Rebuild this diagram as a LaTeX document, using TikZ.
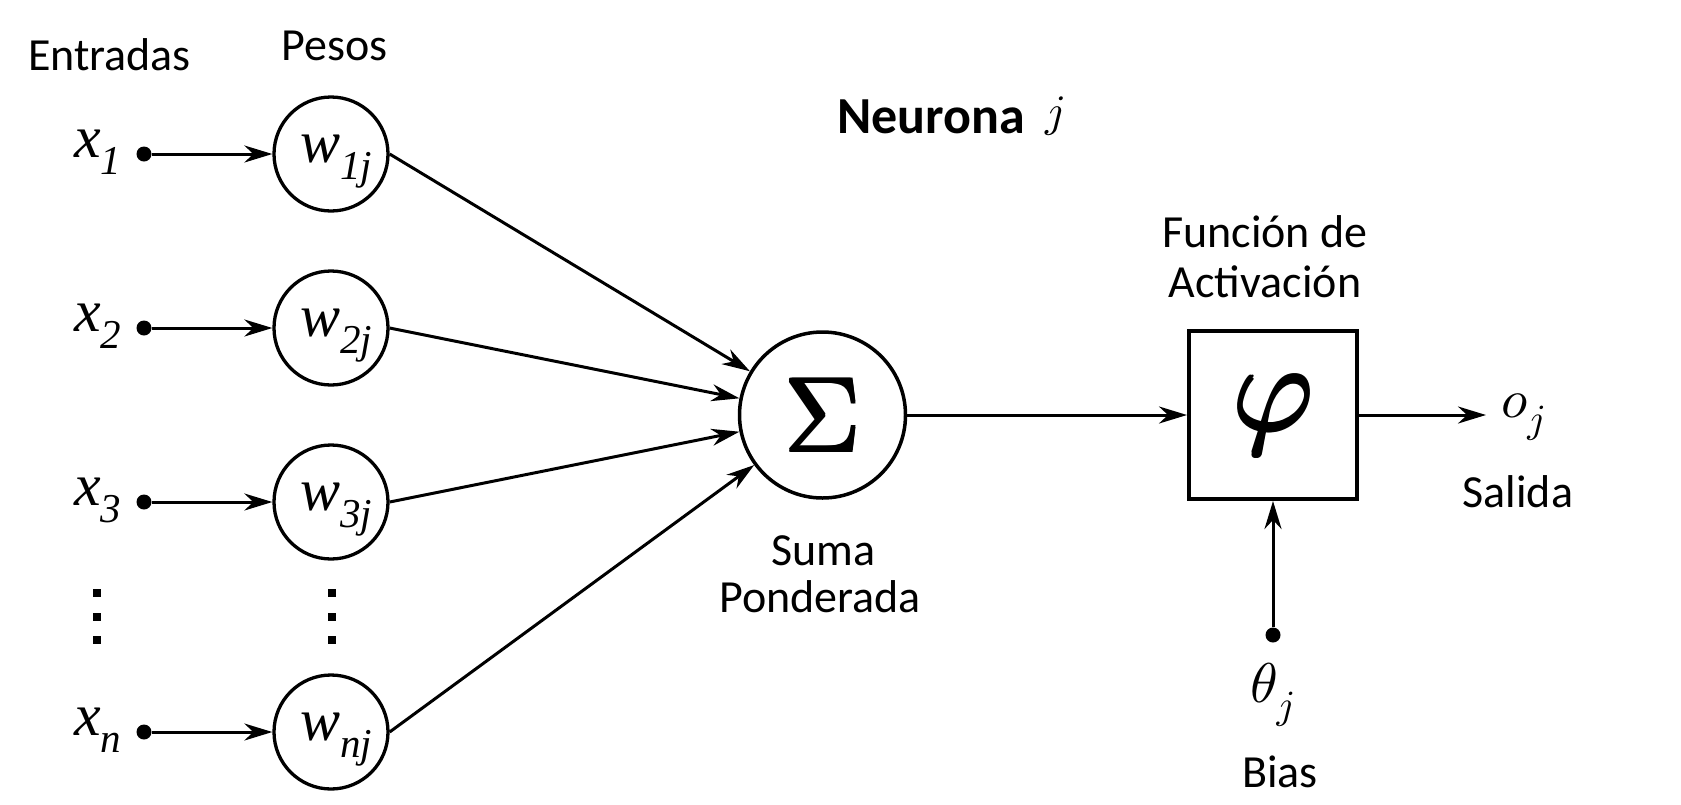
\documentclass[tikz,border=0pt]{standalone}
\usepackage{fix-cm}
\usepackage[no-math]{fontspec}
\setmainfont{Carlito}
\newfontfamily\lsf{Liberation Serif}
\usetikzlibrary{arrows.meta}
\font\sigfont=cmr10 at 106pt
\font\phifont=cmmi10 at 124pt
\font\thfont=cmmi10 at 56pt
\font\ofont=cmmi10 at 54pt
\font\subfont=cmmi10 at 40pt
\font\jfont=cmmi10 at 45pt
\newcommand{\heavy}[2]{\rlap{#2}\rlap{\kern#1pt #2}\rlap{\raise#1pt\hbox{#2}}\kern#1pt\raise#1pt\hbox{#2}}
\newcommand{\slab}[2]{{\lsf\itshape\fontsize{60}{62}\selectfont #1\raisebox{-17pt}{\fontsize{41}{41}\selectfont #2}}}
\begin{document}
\begin{tikzpicture}[x=1pt,y=-1pt,
  lab/.style={font=\fontsize{46}{50}\selectfont, inner sep=0pt, anchor=base},
  mlab/.style={inner sep=0pt, anchor=base west},
  dotn/.style={circle, fill=black, inner sep=0pt, minimum size=15pt},
  wc/.style={circle, draw=black, line width=3.3pt, minimum size=114pt, inner sep=0pt},
  arr/.style={-{Stealth[length=28pt,width=17pt,inset=9pt]}, line width=3pt}]
\useasboundingbox (0,0) rectangle (1681,804);
\fill[white] (0,0) rectangle (1681,804);
% headers
\node[lab] (ent) at (109.5,70) {Entradas};
\node[lab] (pes) at (334.5,60) {Pesos};
\node[inner sep=0pt, anchor=base west, font=\bfseries\fontsize{52}{56}\selectfont] (neu) at (837,133) {Neurona};
\node[mlab] (neuj) at (1045,126) {\jfont j};
% rows
\foreach \r/\y/\s in {1/154/1, 2/328/2, 3/502/3, n/732/n}{
  \node[dotn] (d\r) at (144,\y) {};
  \node[wc] (w\r) at (331,\y) {};
  \node[mlab] (x\r) at (74,\y+3) {\slab{x}{\s}};
  \node[mlab] (wt\r) at (300,\y+8) {\slab{w}{\s j}};
  \draw[arr] (d\r) -- (w\r);
}
% vertical dots
\foreach \xx in {97,332}{
  \foreach \yy in {593,617,640}{
    \fill[black] (\xx-4,\yy-4) rectangle (\xx+4,\yy+4);
  }
}
% summation
\node[circle, draw=black, line width=3.5pt, minimum size=166pt, inner sep=0pt] (sum) at (822.5,415) {\heavy{2.2}{\sigfont\char6}};
\foreach \r in {1,2,3,n}{
  \draw[arr] (w\r.east) -- (sum);
}
\node[lab] (suma1) at (823.5,565) {Suma};
\node[lab] (suma2) at (820,612) {Ponderada};
% activation
\node[rectangle, draw=black, line width=4pt, minimum width=168pt, minimum height=168pt, inner sep=0pt] (act) at (1273,415) {\heavy{2.8}{\phifont\char"27}};
\node[lab] (fun1) at (1265,247) {Función de};
\node[lab] (fun2) at (1265,297) {Activación};
\draw[arr] (sum) -- (act);
% output
\node[mlab, inner xsep=15pt] (out) at (1486,417) {\ofont o\raisebox{-15.5pt}{\subfont j}};
\draw[arr] (act.east) -- (act.east -| out.west);
\node[lab] (sal) at (1518,507) {Salida};
% bias
\node[dotn] (bd) at (1273,635) {};
\draw[arr] (bd) -- (act);
\node[mlab] (theta) at (1250,702) {\thfont\char"12\raisebox{-16.5pt}{\subfont j}};
\node[lab] (bias) at (1280,787) {Bias};
\end{tikzpicture}
\end{document}
